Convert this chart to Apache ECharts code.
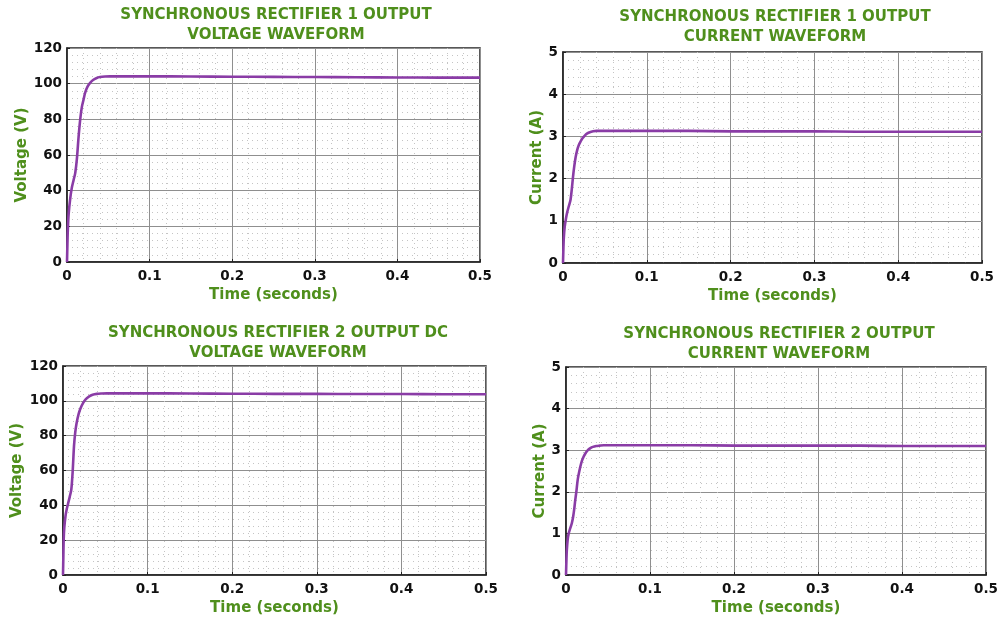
<!DOCTYPE html>
<html><head><meta charset="utf-8">
<script src="https://cdn.jsdelivr.net/npm/echarts@6/dist/echarts.min.js"></script>
<style>html,body{margin:0;padding:0;background:#fff}#c{width:1001px;height:620px}</style>
</head><body><div id="c"></div>
<script>
// ---- data ----
const titles = [
  'SYNCHRONOUS RECTIFIER 1 OUTPUT\nVOLTAGE WAVEFORM',
  'SYNCHRONOUS RECTIFIER 1 OUTPUT\nCURRENT WAVEFORM',
  'SYNCHRONOUS RECTIFIER 2 OUTPUT DC\nVOLTAGE WAVEFORM',
  'SYNCHRONOUS RECTIFIER 2 OUTPUT\nCURRENT WAVEFORM'
];
const xName = 'Time (seconds)';
const yNames = ['Voltage (V)', 'Current (A)', 'Voltage (V)', 'Current (A)'];
const yMax = [120, 5, 120, 5];
const yStep = [20, 1, 20, 1];

const time1 = [0, 0.0005, 0.001, 0.002, 0.004, 0.006, 0.008, 0.010, 0.012, 0.014, 0.016, 0.018, 0.020, 0.022, 0.025, 0.028, 0.032, 0.036, 0.040, 0.046, 0.052, 0.06, 0.08, 0.1, 0.15, 0.2, 0.25, 0.3, 0.35, 0.4, 0.45, 0.5];
const voltage1 = [0, 10, 18, 27, 36, 42, 46, 50, 58, 70, 80, 87, 91, 95, 98.5, 100.5, 102.2, 103.2, 103.7, 104, 104.1, 104.1, 104.1, 104.1, 104, 103.9, 103.8, 103.7, 103.6, 103.5, 103.4, 103.4];

const time2 = [0, 0.0005, 0.001, 0.002, 0.0035, 0.005, 0.007, 0.009, 0.0105, 0.012, 0.0135, 0.015, 0.017, 0.019, 0.021, 0.023, 0.026, 0.029, 0.032, 0.036, 0.040, 0.045, 0.05, 0.06, 0.08, 0.1, 0.15, 0.2, 0.25, 0.3, 0.35, 0.4, 0.45, 0.5];
const current1 = [0, 0.35, 0.6, 0.85, 1.05, 1.2, 1.35, 1.5, 1.75, 2.05, 2.3, 2.5, 2.68, 2.8, 2.88, 2.95, 3.02, 3.07, 3.1, 3.12, 3.13, 3.13, 3.13, 3.13, 3.13, 3.13, 3.13, 3.12, 3.12, 3.12, 3.11, 3.11, 3.11, 3.11];

const time3 = [0, 0.0004, 0.0008, 0.0015, 0.003, 0.0045, 0.006, 0.008, 0.0098, 0.0115, 0.013, 0.0145, 0.016, 0.0185, 0.021, 0.024, 0.027, 0.031, 0.035, 0.040, 0.046, 0.052, 0.06, 0.08, 0.1, 0.15, 0.2, 0.25, 0.3, 0.35, 0.4, 0.45, 0.5];
const voltage3 = [0, 10, 20, 27, 34, 38, 41, 45, 49, 60, 74, 82, 87, 92.5, 96, 99, 101, 102.6, 103.5, 104, 104.2, 104.3, 104.3, 104.3, 104.3, 104.2, 104.1, 104, 104, 103.9, 103.9, 103.8, 103.8];

const time4 = [0, 0.0005, 0.001, 0.002, 0.0032, 0.005, 0.007, 0.0085, 0.0099, 0.011, 0.0123, 0.014, 0.0159, 0.018, 0.020, 0.023, 0.026, 0.029, 0.032, 0.036, 0.040, 0.045, 0.05, 0.06, 0.08, 0.1, 0.15, 0.2, 0.25, 0.3, 0.35, 0.4, 0.45, 0.5];
const current4 = [0, 0.35, 0.6, 0.85, 1.0, 1.12, 1.25, 1.4, 1.6, 1.8, 2.0, 2.3, 2.5, 2.68, 2.8, 2.92, 3.0, 3.05, 3.08, 3.1, 3.11, 3.12, 3.12, 3.12, 3.12, 3.12, 3.12, 3.11, 3.11, 3.11, 3.11, 3.1, 3.1, 3.1];

const times = [time1, time2, time3, time4];
const values = [voltage1, current1, voltage3, current4];

// ---- styling / layout ----
const green = '#4f8f1c';
const purple = '#8a3ca6';
const FONT = 'DejaVu Sans';
const grids = [
  {left: 67, top: 48, width: 413, height: 214},
  {left: 563, top: 52, width: 419, height: 211},
  {left: 63, top: 366, width: 423, height: 209},
  {left: 566, top: 367, width: 420, height: 208}
];
const titlePos = [
  {left: 271, top: 0},
  {left: 770, top: 2},
  {left: 273, top: 318},
  {left: 774, top: 319}
];
const yGaps = [37, 17, 38, 16];

const option = {
  animation: false,
  backgroundColor: '#ffffff',
  title: titles.map((t, i) => ({
    text: t, left: titlePos[i].left, top: titlePos[i].top, textAlign: 'center',
    textStyle: {fontFamily: FONT, fontWeight: 'bold', fontSize: 15, color: green, lineHeight: 20}
  })),
  grid: grids.map(g => Object.assign({show: true, borderColor: '#222', borderWidth: 1.5, backgroundColor: '#fff'}, g)),
  xAxis: grids.map((g, i) => ({
    type: 'value', gridIndex: i, min: 0, max: 0.5, interval: 0.1,
    name: xName, nameLocation: 'middle', nameGap: 26,
    nameTextStyle: {fontFamily: FONT, fontWeight: 'bold', fontSize: 15, color: green},
    axisLine: {show: true, lineStyle: {color: '#222', width: 1.5}},
    axisTick: {show: true, inside: true, length: 3, lineStyle: {color: '#222'}},
    axisLabel: {fontFamily: FONT, fontWeight: 'bold', fontSize: 13.5, color: '#111', margin: 7},
    splitLine: {show: true, lineStyle: {color: '#8f8f8f', width: 1}},
    minorTick: {show: false, splitNumber: 5},
    minorSplitLine: {show: true, lineStyle: {color: '#c4c4c4', width: 1, type: [1, 4]}}
  })),
  yAxis: grids.map((g, i) => ({
    type: 'value', gridIndex: i, min: 0, max: yMax[i], interval: yStep[i],
    name: yNames[i], nameLocation: 'middle', nameGap: yGaps[i],
    nameTextStyle: {fontFamily: FONT, fontWeight: 'bold', fontSize: 15, color: green},
    axisLine: {show: true, lineStyle: {color: '#222', width: 1.5}},
    axisTick: {show: true, inside: true, length: 3, lineStyle: {color: '#222'}},
    axisLabel: {fontFamily: FONT, fontWeight: 'bold', fontSize: 13.5, color: '#111', margin: 5},
    splitLine: {show: true, lineStyle: {color: '#8f8f8f', width: 1}},
    minorTick: {show: false, splitNumber: 5},
    minorSplitLine: {show: true, lineStyle: {color: '#c4c4c4', width: 1, type: [1, 4]}}
  })),
  series: values.map((v, i) => ({
    type: 'line', xAxisIndex: i, yAxisIndex: i, showSymbol: false, smooth: 0.3,
    data: times[i].map((t, k) => [t, v[k]]),
    lineStyle: {color: purple, width: 2.6}, itemStyle: {color: purple}
  }))
};
const chart = echarts.init(document.getElementById('c'), null, {renderer: 'canvas'});
chart.setOption(option);
</script></body></html>
